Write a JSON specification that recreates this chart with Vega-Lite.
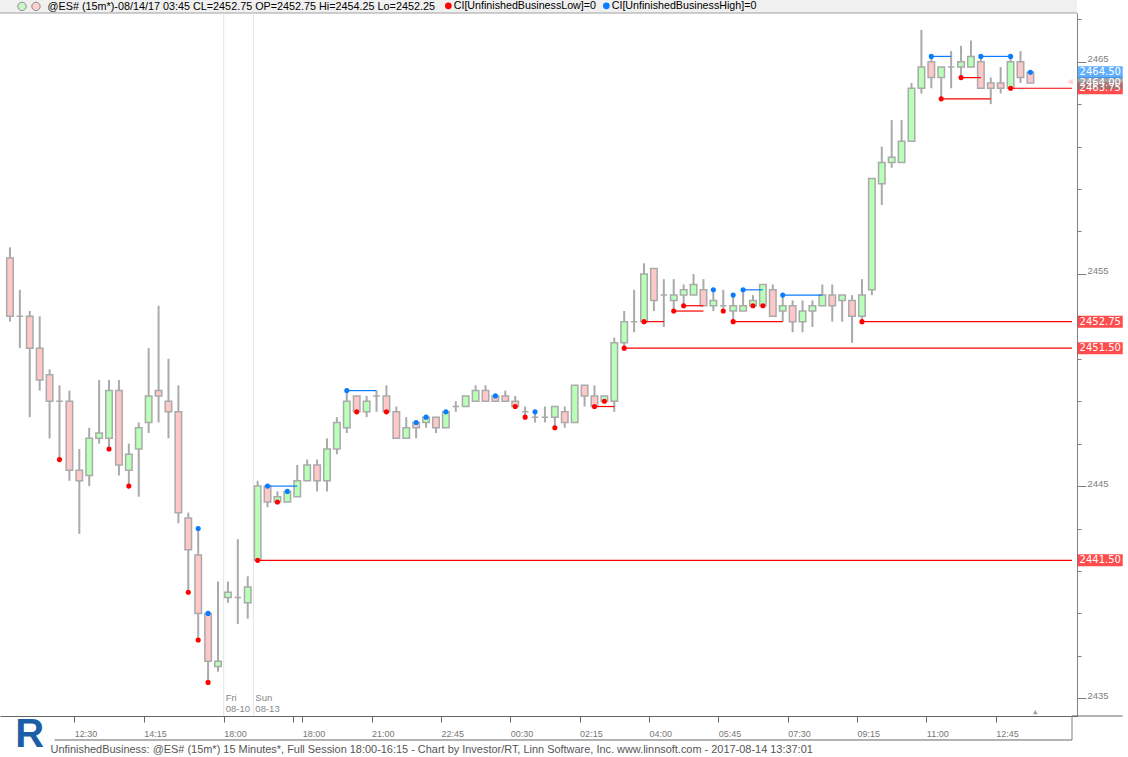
{
  "$schema": "https://vega.github.io/schema/vega-lite/v6.json",
  "width": 1077,
  "height": 703,
  "autosize": {"type": "none"},
  "padding": {"left": 0, "top": 13, "right": 51, "bottom": 41},
  "background": "white",
  "config": {"view": {"stroke": null}, "font": "Liberation Sans"},
  "datasets": {
    "bars": [
      {"i":0,"o":2455.75,"h":2456.25,"l":2452.75,"c":2453},
      {"i":1,"o":2453,"h":2454.25,"l":2451.5,"c":2453},
      {"i":2,"o":2453,"h":2453.25,"l":2448.25,"c":2451.5},
      {"i":3,"o":2451.5,"h":2453,"l":2449.5,"c":2450},
      {"i":4,"o":2450.25,"h":2450.5,"l":2447.25,"c":2449},
      {"i":5,"o":2449,"h":2449.75,"l":2446.25,"c":2449},
      {"i":6,"o":2449,"h":2449.5,"l":2445.25,"c":2445.75},
      {"i":7,"o":2445.75,"h":2446.75,"l":2442.75,"c":2445.25},
      {"i":8,"o":2445.5,"h":2447.75,"l":2445,"c":2447.25},
      {"i":9,"o":2447.25,"h":2450,"l":2447,"c":2447.5},
      {"i":10,"o":2447.25,"h":2450,"l":2446.75,"c":2449.5},
      {"i":11,"o":2449.5,"h":2450,"l":2445.5,"c":2446},
      {"i":12,"o":2445.75,"h":2447,"l":2445,"c":2446.5},
      {"i":13,"o":2446.75,"h":2448,"l":2444.5,"c":2447.75},
      {"i":14,"o":2448,"h":2451.5,"l":2447.5,"c":2449.25},
      {"i":15,"o":2449.5,"h":2453.5,"l":2448,"c":2449.25},
      {"i":16,"o":2449,"h":2451,"l":2447.25,"c":2448.5},
      {"i":17,"o":2448.5,"h":2449.75,"l":2443.25,"c":2443.75},
      {"i":18,"o":2443.5,"h":2443.75,"l":2440,"c":2442},
      {"i":19,"o":2441.75,"h":2443,"l":2437.75,"c":2439},
      {"i":20,"o":2439,"h":2439,"l":2435.75,"c":2436.75},
      {"i":21,"o":2436.5,"h":2440.5,"l":2436.25,"c":2436.75},
      {"i":22,"o":2439.75,"h":2440.5,"l":2439.5,"c":2440},
      {"i":23,"o":2439.75,"h":2442.5,"l":2438.5,"c":2439.75},
      {"i":24,"o":2439.5,"h":2440.75,"l":2438.75,"c":2440.25},
      {"i":25,"o":2441.5,"h":2445.25,"l":2441.5,"c":2445},
      {"i":26,"o":2445,"h":2445,"l":2444,"c":2444.25},
      {"i":27,"o":2444.25,"h":2444.75,"l":2444.25,"c":2444.5},
      {"i":28,"o":2444.25,"h":2444.75,"l":2444.25,"c":2444.75},
      {"i":29,"o":2444.5,"h":2446,"l":2444.5,"c":2445.25},
      {"i":30,"o":2445.25,"h":2446.25,"l":2445.25,"c":2446},
      {"i":31,"o":2446,"h":2446.25,"l":2444.75,"c":2445.25},
      {"i":32,"o":2445.25,"h":2447.25,"l":2444.75,"c":2446.75},
      {"i":33,"o":2446.75,"h":2448.25,"l":2446.5,"c":2448},
      {"i":34,"o":2447.75,"h":2449.5,"l":2447.5,"c":2449},
      {"i":35,"o":2449.25,"h":2449.25,"l":2448.5,"c":2448.5},
      {"i":36,"o":2448.5,"h":2449.25,"l":2448.25,"c":2449},
      {"i":37,"o":2449.25,"h":2449.5,"l":2448.5,"c":2449.25},
      {"i":38,"o":2449.25,"h":2449.75,"l":2448.5,"c":2448.5},
      {"i":39,"o":2448.5,"h":2448.75,"l":2447.25,"c":2447.25},
      {"i":40,"o":2447.25,"h":2448.25,"l":2447.25,"c":2447.75},
      {"i":41,"o":2448,"h":2448,"l":2447.25,"c":2447.75},
      {"i":42,"o":2448,"h":2448.25,"l":2447.75,"c":2448.25},
      {"i":43,"o":2448.25,"h":2448.25,"l":2447.5,"c":2447.75},
      {"i":44,"o":2447.75,"h":2448.5,"l":2447.75,"c":2448.5},
      {"i":45,"o":2448.75,"h":2449,"l":2448.5,"c":2448.75},
      {"i":46,"o":2448.75,"h":2449.25,"l":2448.75,"c":2449.25},
      {"i":47,"o":2449,"h":2449.75,"l":2449,"c":2449.5},
      {"i":48,"o":2449.5,"h":2449.75,"l":2449,"c":2449},
      {"i":49,"o":2449.25,"h":2449.25,"l":2449,"c":2449},
      {"i":50,"o":2449.25,"h":2449.5,"l":2449,"c":2449},
      {"i":51,"o":2449,"h":2449.25,"l":2448.75,"c":2448.75},
      {"i":52,"o":2448.5,"h":2448.75,"l":2448.25,"c":2448.5},
      {"i":53,"o":2448.25,"h":2448.5,"l":2448,"c":2448.25},
      {"i":54,"o":2448.25,"h":2448.75,"l":2448,"c":2448.25},
      {"i":55,"o":2448.25,"h":2448.75,"l":2447.75,"c":2448.75},
      {"i":56,"o":2448.5,"h":2448.75,"l":2447.75,"c":2448},
      {"i":57,"o":2448,"h":2449.75,"l":2448,"c":2449.75},
      {"i":58,"o":2449.75,"h":2449.75,"l":2448.75,"c":2449.25},
      {"i":59,"o":2449.25,"h":2449.75,"l":2448.75,"c":2448.75},
      {"i":60,"o":2449,"h":2449.25,"l":2449,"c":2449.25},
      {"i":61,"o":2449,"h":2452,"l":2448.5,"c":2451.75},
      {"i":62,"o":2451.75,"h":2453.25,"l":2451.5,"c":2452.75},
      {"i":63,"o":2452.75,"h":2454.25,"l":2452.25,"c":2452.75},
      {"i":64,"o":2452.75,"h":2455.5,"l":2452.75,"c":2455},
      {"i":65,"o":2455.25,"h":2455.25,"l":2453.25,"c":2453.75},
      {"i":66,"o":2454,"h":2454.75,"l":2452.5,"c":2454},
      {"i":67,"o":2453.75,"h":2454.75,"l":2453.25,"c":2454},
      {"i":68,"o":2454,"h":2454.5,"l":2453.5,"c":2454.25},
      {"i":69,"o":2454,"h":2455,"l":2454,"c":2454.5},
      {"i":70,"o":2454.25,"h":2454.75,"l":2453.5,"c":2453.5},
      {"i":71,"o":2453.5,"h":2454.25,"l":2453.25,"c":2453.75},
      {"i":72,"o":2453.5,"h":2454.25,"l":2453.25,"c":2453.5},
      {"i":73,"o":2453.25,"h":2454,"l":2452.75,"c":2453.5},
      {"i":74,"o":2453.25,"h":2454.25,"l":2453.25,"c":2453.5},
      {"i":75,"o":2453.5,"h":2454,"l":2453.5,"c":2453.75},
      {"i":76,"o":2453.5,"h":2454.5,"l":2453.5,"c":2454.5},
      {"i":77,"o":2454.25,"h":2454.5,"l":2453,"c":2453},
      {"i":78,"o":2453.25,"h":2454,"l":2452.75,"c":2453.5},
      {"i":79,"o":2453.5,"h":2453.75,"l":2452.25,"c":2452.75},
      {"i":80,"o":2452.75,"h":2453.75,"l":2452.25,"c":2453.25},
      {"i":81,"o":2453.25,"h":2453.75,"l":2452.5,"c":2453.5},
      {"i":82,"o":2453.5,"h":2454.5,"l":2453.5,"c":2454},
      {"i":83,"o":2454,"h":2454.5,"l":2452.75,"c":2453.5},
      {"i":84,"o":2453.75,"h":2454,"l":2452.75,"c":2454},
      {"i":85,"o":2453.75,"h":2454,"l":2451.75,"c":2453},
      {"i":86,"o":2453,"h":2454.75,"l":2452.75,"c":2454},
      {"i":87,"o":2454.25,"h":2459.5,"l":2454,"c":2459.5},
      {"i":88,"o":2459.25,"h":2461,"l":2458.25,"c":2460.25},
      {"i":89,"o":2460.25,"h":2462.25,"l":2460,"c":2460.5},
      {"i":90,"o":2460.25,"h":2462.25,"l":2460.25,"c":2461.25},
      {"i":91,"o":2461.25,"h":2464,"l":2461.25,"c":2463.75},
      {"i":92,"o":2463.75,"h":2466.5,"l":2463.5,"c":2464.75},
      {"i":93,"o":2465,"h":2465.25,"l":2463.75,"c":2464.25},
      {"i":94,"o":2464.25,"h":2464.75,"l":2463.25,"c":2464.75},
      {"i":95,"o":2464.75,"h":2465.5,"l":2463.75,"c":2464.75},
      {"i":96,"o":2464.75,"h":2465.75,"l":2464.25,"c":2465},
      {"i":97,"o":2464.75,"h":2466,"l":2464.75,"c":2465.25},
      {"i":98,"o":2465,"h":2465.25,"l":2463.75,"c":2463.75},
      {"i":99,"o":2464,"h":2464.25,"l":2463,"c":2463.75},
      {"i":100,"o":2464,"h":2464.75,"l":2463.5,"c":2463.75},
      {"i":101,"o":2463.75,"h":2465.25,"l":2463.75,"c":2465},
      {"i":102,"o":2465,"h":2465.5,"l":2464,"c":2464.25},
      {"i":103,"o":2464.5,"h":2464.5,"l":2464,"c":2464}
    ],
    "dots": [
      {"i":5,"p":2446.25,"s":"Low"},{"i":10,"p":2446.75,"s":"Low"},{"i":12,"p":2445,"s":"Low"},
      {"i":18,"p":2440,"s":"Low"},{"i":19,"p":2437.75,"s":"Low"},{"i":20,"p":2435.75,"s":"Low"},
      {"i":25,"p":2441.5,"s":"Low"},{"i":27,"p":2444.25,"s":"Low"},{"i":35,"p":2448.5,"s":"Low"},
      {"i":38,"p":2448.5,"s":"Low"},{"i":51,"p":2448.75,"s":"Low"},{"i":52,"p":2448.25,"s":"Low"},
      {"i":55,"p":2447.75,"s":"Low"},{"i":59,"p":2448.75,"s":"Low"},{"i":60,"p":2449,"s":"Low"},
      {"i":62,"p":2451.5,"s":"Low"},{"i":64,"p":2452.75,"s":"Low"},{"i":67,"p":2453.25,"s":"Low"},
      {"i":68,"p":2453.5,"s":"Low"},{"i":72,"p":2453.25,"s":"Low"},{"i":73,"p":2452.75,"s":"Low"},
      {"i":75,"p":2453.5,"s":"Low"},{"i":76,"p":2453.5,"s":"Low"},{"i":86,"p":2452.75,"s":"Low"},
      {"i":94,"p":2463.25,"s":"Low"},{"i":96,"p":2464.25,"s":"Low"},{"i":101,"p":2463.75,"s":"Low"},
      {"i":19,"p":2443,"s":"High"},{"i":20,"p":2439,"s":"High"},{"i":26,"p":2445,"s":"High"},
      {"i":28,"p":2444.75,"s":"High"},{"i":34,"p":2449.5,"s":"High"},{"i":41,"p":2448,"s":"High"},
      {"i":42,"p":2448.25,"s":"High"},{"i":44,"p":2448.5,"s":"High"},{"i":49,"p":2449.25,"s":"High"},
      {"i":53,"p":2448.5,"s":"High"},{"i":71,"p":2454.25,"s":"High"},{"i":73,"p":2454,"s":"High"},
      {"i":74,"p":2454.25,"s":"High"},{"i":78,"p":2454,"s":"High"},{"i":93,"p":2465.25,"s":"High"},
      {"i":98,"p":2465.25,"s":"High"},{"i":101,"p":2465.25,"s":"High"},{"i":103,"p":2464.5,"s":"High"}
    ],
    "segs": [
      {"i":26,"j":29,"p":2445,"s":"High"},{"i":34,"j":37,"p":2449.5,"s":"High"},
      {"i":74,"j":76,"p":2454.25,"s":"High"},{"i":78,"j":82,"p":2454,"s":"High"},
      {"i":93,"j":95,"p":2465.25,"s":"High"},{"i":98,"j":101,"p":2465.25,"s":"High"},
      {"i":59,"j":61,"p":2448.75,"s":"Low"},{"i":64,"j":66,"p":2452.75,"s":"Low"},
      {"i":67,"j":70,"p":2453.25,"s":"Low"},{"i":68,"j":70,"p":2453.5,"s":"Low"},
      {"i":73,"j":78,"p":2452.75,"s":"Low"},{"i":94,"j":99,"p":2463.25,"s":"Low"},
      {"i":96,"j":98,"p":2464.25,"s":"Low"}
    ],
    "open": [
      {"i":25,"p":2441.5},{"i":62,"p":2451.5},{"i":86,"p":2452.75},{"i":101,"p":2463.75}
    ],
    "labels": [
      {"p":2463.75,"k":"low"},{"p":2464.0,"k":"last"},{"p":2464.5,"k":"high"},
      {"p":2452.75,"k":"low"},{"p":2451.5,"k":"low"},{"p":2441.5,"k":"low"}
    ],
    "seps": [
      {"at":21.57,"day":"Fri","date":"08-10"},
      {"at":24.57,"day":"Sun","date":"08-13"}
    ]
  },
  "layer": [
    {
      "data": {"values": [{}]},
      "mark": {"type": "rect", "color": "#f0f0f0"},
      "encoding": {"y": {"datum": 2467.908, "type": "quantitative"}, "y2": {"datum": 2467.295}}
    },
    {
      "data": {"values": [{}]},
      "mark": {"type": "rule", "color": "#a0a0a0", "strokeWidth": 1},
      "encoding": {"y": {"datum": 2467.295, "type": "quantitative"}}
    },
    {
      "data": {"values": [{}]},
      "mark": {"type": "text", "text": "@ES# (15m*)-08/14/17 03:45 CL=2452.75 OP=2452.75 Hi=2454.25 Lo=2452.25", "align": "left", "baseline": "middle", "font": "Liberation Sans", "fontSize": 10.8, "color": "#000000"},
      "encoding": {"x": {"datum": 3.8, "type": "quantitative"}, "y": {"datum": 2467.6, "type": "quantitative"}}
    },
    {
      "data": {"name": "seps"},
      "mark": {"type": "rule", "color": "#e4e4e4", "strokeWidth": 1},
      "encoding": {"x": {"field": "at", "type": "quantitative"}}
    },
    {
      "data": {"name": "seps"},
      "mark": {"type": "text", "align": "left", "baseline": "middle", "dx": 2, "fontSize": 9.5, "color": "#888888"},
      "encoding": {"x": {"field": "at", "type": "quantitative"}, "y": {"datum": 2435.01, "type": "quantitative"}, "text": {"field": "day"}}
    },
    {
      "data": {"name": "seps"},
      "mark": {"type": "text", "align": "left", "baseline": "middle", "dx": 2, "fontSize": 9.5, "color": "#888888"},
      "encoding": {"x": {"field": "at", "type": "quantitative"}, "y": {"datum": 2434.49, "type": "quantitative"}, "text": {"field": "date"}}
    },
    {
      "data": {"name": "bars"},
      "mark": {"type": "rule", "color": "#aaaaaa", "strokeWidth": 2},
      "encoding": {
        "x": {
          "field": "i", "type": "quantitative",
          "scale": {"domain": [-0.5, 107.2], "nice": false, "zero": false},
          "axis": {
            "values": [6.5, 13.5, 21.57, 28.57, 29.5, 36.5, 43.5, 50.5, 57.5, 64.5, 71.5, 78.5, 85.5, 92.5, 99.5],
            "labelExpr": "['12:30','14:15','18:00','','18:00','21:00','22:45','00:30','02:15','04:00','05:45','07:30','09:15','11:00','12:45'][indexof([6.5,13.5,21.57,28.57,29.5,36.5,43.5,50.5,57.5,64.5,71.5,78.5,85.5,92.5,99.5], datum.value)]",
            "labelAlign": "left", "labelBaseline": "middle", "labelPadding": 11, "labelFlush": false, "labelOverlap": false,
            "labelFontSize": 9, "labelColor": "#777777", "labelFont": "Liberation Sans",
            "tickSize": 6, "tickColor": "#666666", "domainColor": "#666666", "grid": false,
            "title": "UnfinishedBusiness: @ES# (15m*) 15 Minutes*, Full Session 18:00-16:15 - Chart by Investor/RT, Linn Software, Inc. www.linnsoft.com - 2017-08-14 13:37:01",
            "titleAnchor": "start", "titleAlign": "left", "titleX": 50, "titleY": 33, "titleBaseline": "middle",
            "titleFontSize": 10.95, "titleFontWeight": "normal", "titleColor": "#555555", "titleFont": "Liberation Sans"
          }
        },
        "y": {
          "field": "l", "type": "quantitative",
          "scale": {"domain": [2434.166, 2467.295], "nice": false, "zero": false},
          "axis": {
            "orient": "right", "title": null, "grid": false,
            "values": [2435,2436,2437,2438,2439,2440,2441,2442,2443,2444,2445,2446,2447,2448,2449,2450,2451,2452,2453,2454,2455,2456,2457,2458,2459,2460,2461,2462,2463,2464,2465,2466,2467],
            "labelExpr": "datum.value % 5 === 0 ? datum.label : ''",
            "format": "d",
            "tickSize": {"condition": {"test": "datum.value % 5 === 0", "value": 9}, "value": 4},
            "labelPadding": 1, "labelBaseline": "alphabetic", "labelAlign": "left",
            "labelFontSize": 9.5, "labelColor": "#808080", "labelFont": "Liberation Sans",
            "tickColor": "#808080", "domainColor": "#808080"
          }
        },
        "y2": {"field": "h"}
      }
    },
    {
      "data": {"name": "bars"},
      "mark": {"type": "bar", "width": 6.5, "stroke": "#aaaaaa", "strokeWidth": 1.5},
      "encoding": {
        "x": {"field": "i", "type": "quantitative"},
        "y": {"field": "o", "type": "quantitative"},
        "y2": {"field": "c"},
        "fill": {"condition": {"test": "datum.c < datum.o", "value": "#ffc8c8"}, "value": "#b8ffb8"}
      }
    },
    {
      "data": {"name": "segs"},
      "mark": {"type": "rule", "strokeWidth": 1.2},
      "encoding": {
        "x": {"field": "i", "type": "quantitative"},
        "x2": {"field": "j"},
        "y": {"field": "p", "type": "quantitative"},
        "color": {"condition": {"test": "datum.s === 'High'", "value": "#0a7cff"}, "value": "#ff0000"}
      }
    },
    {
      "data": {"name": "open"},
      "mark": {"type": "rule", "strokeWidth": 1.2, "color": "#ff0000"},
      "encoding": {
        "x": {"field": "i", "type": "quantitative"},
        "x2": {"datum": 107.2},
        "y": {"field": "p", "type": "quantitative"}
      }
    },
    {
      "data": {"name": "dots"},
      "mark": {"type": "point", "filled": true, "size": 26, "opacity": 1},
      "encoding": {
        "x": {"field": "i", "type": "quantitative"},
        "y": {"field": "p", "type": "quantitative"},
        "color": {
          "field": "s", "type": "nominal",
          "scale": {"domain": ["Low", "High"], "range": ["#ff0000", "#0a7cff"]},
          "legend": {
            "orient": "none", "legendX": 443, "legendY": -13, "direction": "horizontal", "title": null,
            "symbolType": "circle", "symbolSize": 45, "symbolStrokeWidth": 0, "symbolOpacity": 1,
            "labelFontSize": 10.7, "labelFont": "Liberation Sans", "labelColor": "#000000",
            "labelOffset": 0, "columnPadding": 5, "padding": 0, "zindex": 1,
            "labelExpr": "'CI[UnfinishedBusiness' + datum.label + ']=0'"
          }
        }
      }
    },
    {
      "data": {"values": [{"s": "up"}, {"s": "down"}]},
      "mark": {"type": "point", "filled": true, "size": 0, "opacity": 0},
      "encoding": {
        "fill": {
          "field": "s", "type": "nominal",
          "scale": {"domain": ["up", "down"], "range": ["#c8f7c8", "#ffd0d0"]},
          "legend": {
            "orient": "none", "legendX": 17, "legendY": -12, "direction": "horizontal", "title": null,
            "symbolType": "circle", "symbolSize": 70, "symbolOpacity": 1, "symbolStrokeColor": "#8a8a8a", "symbolStrokeWidth": 1,
            "labelExpr": "''", "labelOffset": 0, "columnPadding": 0, "padding": 0, "zindex": 1
          }
        }
      }
    },
    {
      "data": {"name": "labels"},
      "mark": {"type": "tick", "orient": "horizontal", "thickness": 12, "size": 45},
      "encoding": {
        "x": {"datum": 110.05, "type": "quantitative"},
        "y": {"field": "p", "type": "quantitative"},
        "color": {"condition": [{"test": "datum.k === 'high'", "value": "#1e8cff"}, {"test": "datum.k === 'last'", "value": "#808080"}], "value": "#ff0000"}
      }
    },
    {
      "data": {"name": "labels"},
      "mark": {"type": "text", "align": "center", "baseline": "middle", "font": "DejaVu Sans", "fontSize": 10, "color": "#ffffff"},
      "encoding": {
        "x": {"datum": 110.05, "type": "quantitative"},
        "y": {"field": "p", "type": "quantitative"},
        "text": {"field": "p", "type": "quantitative", "format": ".2f"}
      }
    },
    {
      "data": {"values": [{}]},
      "mark": {"type": "point", "shape": "triangle-left", "filled": true, "size": 40, "color": "#ffbcbc"},
      "encoding": {"x": {"datum": 107.0, "type": "quantitative"}, "y": {"datum": 2464.05, "type": "quantitative"}}
    },
    {
      "data": {"values": [{}]},
      "mark": {"type": "point", "shape": "triangle-up", "filled": true, "size": 22, "color": "#777777"},
      "encoding": {"x": {"datum": 103.5, "type": "quantitative"}, "y": {"datum": 2434.35, "type": "quantitative"}}
    },
    {
      "data": {"values": [{}]},
      "mark": {"type": "rule", "color": "#666666", "strokeWidth": 1},
      "encoding": {"x": {"datum": 4.5, "type": "quantitative"}, "x2": {"datum": 107.2}, "y": {"datum": 2433.035, "type": "quantitative"}}
    },
    {
      "data": {"values": [{}]},
      "mark": {"type": "rule", "color": "#808080", "strokeWidth": 1},
      "encoding": {"x": {"datum": 107.2, "type": "quantitative"}, "y": {"datum": 2434.166, "type": "quantitative"}, "y2": {"datum": 2433.035}}
    },
    {
      "data": {"values": [{}]},
      "mark": {"type": "rule", "color": "#666666", "strokeWidth": 1},
      "encoding": {"x": {"datum": 107.2, "type": "quantitative"}, "x2": {"datum": 112.3}, "y": {"datum": 2434.166, "type": "quantitative"}}
    },
    {
      "data": {"values": [{}]},
      "mark": {"type": "text", "text": "R", "font": "Liberation Sans", "fontWeight": "bold", "fontSize": 40, "color": "#1c5fa8", "align": "center", "baseline": "middle"},
      "encoding": {"x": {"datum": 2.0, "type": "quantitative"}, "y": {"datum": 2433.26, "type": "quantitative"}}
    }
  ]
}
